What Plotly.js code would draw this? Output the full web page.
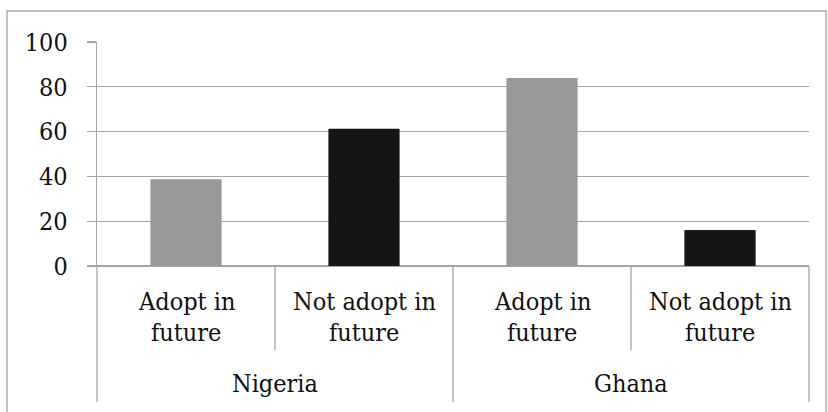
<!DOCTYPE html>
<html>
<head>
<meta charset="utf-8">
<script src="https://cdn.plot.ly/plotly-3.0.1.min.js"></script>
<style>
  html, body { margin: 0; padding: 0; background: #ffffff; }
  #chart { width: 828px; height: 412px; }
</style>
</head>
<body>
<div id="chart"></div>
<script>
// ---- data ----
var countries = ["Nigeria", "Ghana"];
var statuses = ["Adopt in future", "Not adopt in future"];
var statusLines = [["Adopt in", "future"], ["Not adopt in", "future"]];
var nigeriaValues = [38.7, 61.3];
var ghanaValues = [83.9, 16.1];
var yTickValues = [0, 20, 40, 60, 80, 100];
var yTickLabels = ["0", "20", "40", "60", "80", "100"];

// ---- styling ----
var adoptColor = "#999999";
var notAdoptColor = "#161616";
var gridColor = "#a6a6a6";
var fontFam = "DejaVu Serif Condensed, DejaVu Serif";
var fontSize = 25;
var textColor = "#111111";

var countryValues = [nigeriaValues, ghanaValues];
var xKeys = [], yVals = [], colors = [];
countries.forEach(function (c, ci) {
  statuses.forEach(function (s, si) {
    xKeys.push(c + " | " + s);
    yVals.push(countryValues[ci][si]);
    colors.push(si === 0 ? adoptColor : notAdoptColor);
  });
});

var nCat = xKeys.length;
var margin = { l: 97, r: 19, t: 42, b: 146 };
var plotH = 412 - margin.t - margin.b;
var plotW = 828 - margin.l - margin.r;
function py(pixelY) { return (412 - margin.b - pixelY) / plotH; }
function px(pixelX) { return (pixelX - margin.l) / plotW; }
function catEdge(i) { return (i + 1) / nCat; }

var shapes = [];
shapes.push({ type: "rect", xref: "paper", yref: "paper",
  x0: px(7), x1: px(826), y0: py(420), y1: py(11),
  line: { color: gridColor, width: 1.3 }, fillcolor: "rgba(0,0,0,0)", layer: "below" });
shapes.push({ type: "line", xref: "paper", yref: "paper", x0: 0, x1: 0, y0: 0, y1: py(402),
  line: { color: gridColor, width: 1.3 } });
for (var i = 0; i < nCat; i++) {
  var isGroupEnd = (i % statuses.length) === statuses.length - 1;
  shapes.push({ type: "line", xref: "paper", yref: "paper",
    x0: catEdge(i), x1: catEdge(i), y0: 0, y1: isGroupEnd ? py(402) : py(350),
    line: { color: gridColor, width: 1.3 } });
}

var annotations = [];
countries.forEach(function (c, ci) {
  statuses.forEach(function (s, si) {
    var key = c + " | " + s;
    statusLines[si].forEach(function (ln, li) {
      annotations.push({ xref: "x", yref: "paper", x: key, y: py(li === 0 ? 301 : 332),
        text: ln, showarrow: false, xanchor: "center", yanchor: "middle",
        font: { family: fontFam, size: fontSize, color: textColor } });
    });
  });
  annotations.push({ xref: "paper", yref: "paper",
    x: (ci * statuses.length + (statuses.length) / 2) / nCat, y: py(383.5),
    text: c, showarrow: false, xanchor: "center", yanchor: "middle",
    font: { family: fontFam, size: fontSize, color: textColor } });
});

var trace = {
  type: "bar",
  x: xKeys,
  y: yVals,
  marker: { color: colors, line: { width: 0 } },
  width: 0.4,
  hoverinfo: "x+y"
};

var layout = {
  width: 828, height: 412,
  margin: margin,
  paper_bgcolor: "#ffffff",
  plot_bgcolor: "#ffffff",
  showlegend: false,
  font: { family: fontFam, size: fontSize, color: textColor },
  xaxis: {
    type: "category",
    range: [-0.5, nCat - 0.5],
    showticklabels: false,
    ticks: "",
    showgrid: false,
    showline: true, linecolor: gridColor, linewidth: 1.3,
    zeroline: false, fixedrange: true
  },
  yaxis: {
    range: [0, 100],
    tickvals: yTickValues,
    ticktext: yTickLabels,
    ticks: "outside", ticklen: 9, tickcolor: gridColor, tickwidth: 1.3,
    ticklabelstandoff: 14,
    showgrid: true, gridcolor: gridColor, gridwidth: 1.3,
    zeroline: true, zerolinecolor: gridColor, zerolinewidth: 1.3,
    showline: true, linecolor: gridColor, linewidth: 1.3,
    tickfont: { family: fontFam, size: fontSize, color: textColor },
    fixedrange: true
  },
  shapes: shapes,
  annotations: annotations
};

Plotly.newPlot("chart", [trace], layout, { displayModeBar: false, staticPlot: true });
</script>
</body>
</html>
